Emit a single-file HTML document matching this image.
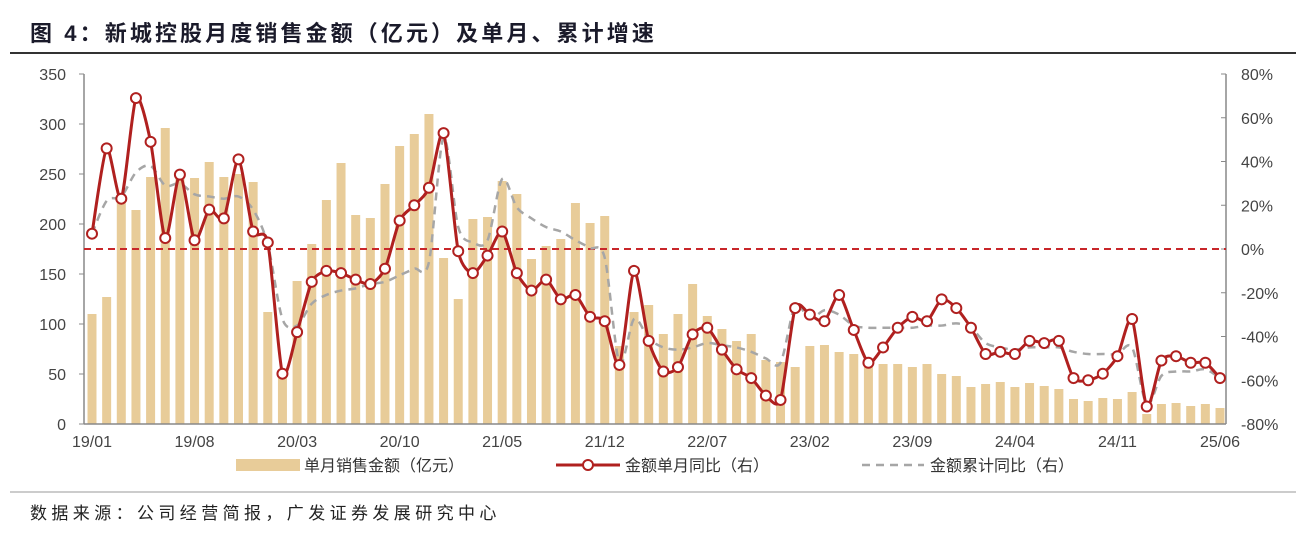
<!DOCTYPE html>
<html><head><meta charset="utf-8">
<style>
body{margin:0;background:#fff;}
svg text{font-family:"Liberation Sans","Noto Sans CJK SC",sans-serif;}
</style></head>
<body>
<svg id="chart" width="1306" height="553" viewBox="0 0 1306 553" xmlns="http://www.w3.org/2000/svg">
<text x="30" y="41" font-size="22" font-weight="bold" letter-spacing="3.1" fill="#1a1a2a">图 4：新城控股月度销售金额（亿元）及单月、累计增速</text>
<line x1="10" y1="53" x2="1296" y2="53" stroke="#333" stroke-width="2"/>
<line x1="10" y1="492" x2="1296" y2="492" stroke="#999" stroke-width="1"/>
<text x="30" y="519" font-size="17" letter-spacing="4.4" fill="#222">数据来源：公司经营简报，广发证券发展研究中心</text>
<g id="plot"></g>
</svg>
<script>
const categories=[];for(let y=19;y<=25;y++)for(let m=1;m<=12;m++){if(y===25&&m>6)break;categories.push(y+'/'+String(m).padStart(2,'0'));}
const sales=[110,127,222,214,247,296,247,246,262,247,250,242,112,50,143,180,224,261,209,206,240,278,290,310,166,125,205,207,243,230,165,178,185,221,201,208,78,112,119,90,110,140,108,95,83,90,64,62,57,78,79,72,70,57,60,60,57,60,50,48,37,40,42,37,41,38,35,25,23,26,25,32,10,20,21,18,20,16];
const monthYoY=[7,46,23,69,49,5,34,4,18,14,41,8,3,-57,-38,-15,-10,-11,-14,-16,-9,13,20,28,53,-1,-11,-3,8,-11,-19,-14,-23,-21,-31,-33,-53,-10,-42,-56,-54,-39,-36,-46,-55,-59,-67,-69,-27,-30,-33,-21,-37,-52,-45,-36,-31,-33,-23,-27,-36,-48,-47,-48,-42,-43,-42,-59,-60,-57,-49,-32,-72,-51,-49,-52,-52,-59];
const cumYoY=[7,22,24,35,38,29,30,25,24,23,24,18,2,-32,-35,-25,-21,-19,-18,-16,-15,-12,-9,-6,51,10,3,4,32,19,14,10,8,4,0.5,-4,-52,-32,-41,-45,-46,-45,-43,-44,-45,-47,-50,-52,-26,-32,-28,-30,-35,-36,-36,-36,-36,-35,-35,-34,-36,-43,-45,-46,-45,-45,-45,-47,-48,-48,-48,-45,-71,-58,-56,-56,-55,-59];
const leftTicks=[0,50,100,150,200,250,300,350];
const rightTicks=[-80,-60,-40,-20,0,20,40,60,80];
const xLabels=['19/01','19/08','20/03','20/10','21/05','21/12','22/07','23/02','23/09','24/04','24/11','25/06'];

const NS='http://www.w3.org/2000/svg';
const g=document.getElementById('plot');
const X0=92,X1=1220,YT=74,YB=424,AXL=84,AXR=1226;
const xs=i=>X0+(X1-X0)*i/(categories.length-1);
const yl=v=>YB-(YB-YT)*v/350;
const yr=v=>YB-(YB-YT)*(v+80)/160;
function el(t,a,p){const e=document.createElementNS(NS,t);for(const k in a)e.setAttribute(k,a[k]);(p||g).appendChild(e);return e;}
function spline(pts,tension){let d='M'+pts[0][0]+','+pts[0][1];for(let i=0;i<pts.length-1;i++){const p0=pts[i-1]||pts[i],p1=pts[i],p2=pts[i+1],p3=pts[i+2]||p2;const t=tension;const c1=[p1[0]+(p2[0]-p0[0])*t,p1[1]+(p2[1]-p0[1])*t],c2=[p2[0]-(p3[0]-p1[0])*t,p2[1]-(p3[1]-p1[1])*t];d+=' C'+c1[0]+','+c1[1]+' '+c2[0]+','+c2[1]+' '+p2[0]+','+p2[1];}return d;}

let e;
e=el('line',{x1:AXL,y1:YT,x2:AXL,y2:YB,stroke:'#888','stroke-width':1.5});

e=el('line',{x1:AXR,y1:YT,x2:AXR,y2:YB,stroke:'#888','stroke-width':1.5});

leftTicks.forEach(v=>{el('line',{x1:AXL-5,y1:yl(v),x2:AXL,y2:yl(v),stroke:'#888'});
 const t=el('text',{x:66,y:yl(v)+6,'font-size':16,'text-anchor':'end',fill:'#444'});t.textContent=v;
 });
rightTicks.forEach(v=>{el('line',{x1:AXR-5,y1:yr(v),x2:AXR,y2:yr(v),stroke:'#888'});
 const t=el('text',{x:1241,y:yr(v)+6,'font-size':16,fill:'#444'});t.textContent=v+'%';
 });
sales.forEach((v,i)=>{const b=el('rect',{x:xs(i)-4.5,y:yl(v),width:9,height:YB-yl(v),fill:'#E8CC99'});
 });
e=el('line',{x1:AXL,y1:YB,x2:AXR,y2:YB,stroke:'#888','stroke-width':1.5});

xLabels.forEach(l=>{const i=categories.indexOf(l);const t=el('text',{x:xs(i),y:447,'font-size':16,'text-anchor':'middle',fill:'#444'});t.textContent=l;
 });
e=el('line',{x1:AXL,y1:yr(0),x2:AXR,y2:yr(0),stroke:'#C8262A','stroke-width':2,'stroke-dasharray':'7,5'});

e=el('path',{d:spline(cumYoY.map((v,i)=>[xs(i),yr(v)]),0.15),fill:'none',stroke:'#A6A6A6','stroke-width':2.5,'stroke-dasharray':'8,6'});

e=el('path',{d:spline(monthYoY.map((v,i)=>[xs(i),yr(v)]),0.12),fill:'none',stroke:'#B0201F','stroke-width':3});

monthYoY.forEach((v,i)=>{const c=el('circle',{cx:xs(i),cy:yr(v),r:5,fill:'#fff',stroke:'#B0201F','stroke-width':2});
 });
const lg=el('g',{});
el('rect',{x:236,y:459,width:64,height:12,fill:'#E8CC99'},lg);
let t=el('text',{x:304,y:471,'font-size':16,fill:'#333'},lg);t.textContent='单月销售金额（亿元）';

el('line',{x1:556,y1:465,x2:620,y2:465,stroke:'#B0201F','stroke-width':3},lg);
el('circle',{cx:588,cy:465,r:5,fill:'#fff',stroke:'#B0201F','stroke-width':2},lg);
t=el('text',{x:625,y:471,'font-size':16,fill:'#333'},lg);t.textContent='金额单月同比（右）';

el('line',{x1:862,y1:465,x2:924,y2:465,stroke:'#A6A6A6','stroke-width':2.5,'stroke-dasharray':'8,6'},lg);
t=el('text',{x:930,y:471,'font-size':16,fill:'#333'},lg);t.textContent='金额累计同比（右）';

</script>
</body></html>
